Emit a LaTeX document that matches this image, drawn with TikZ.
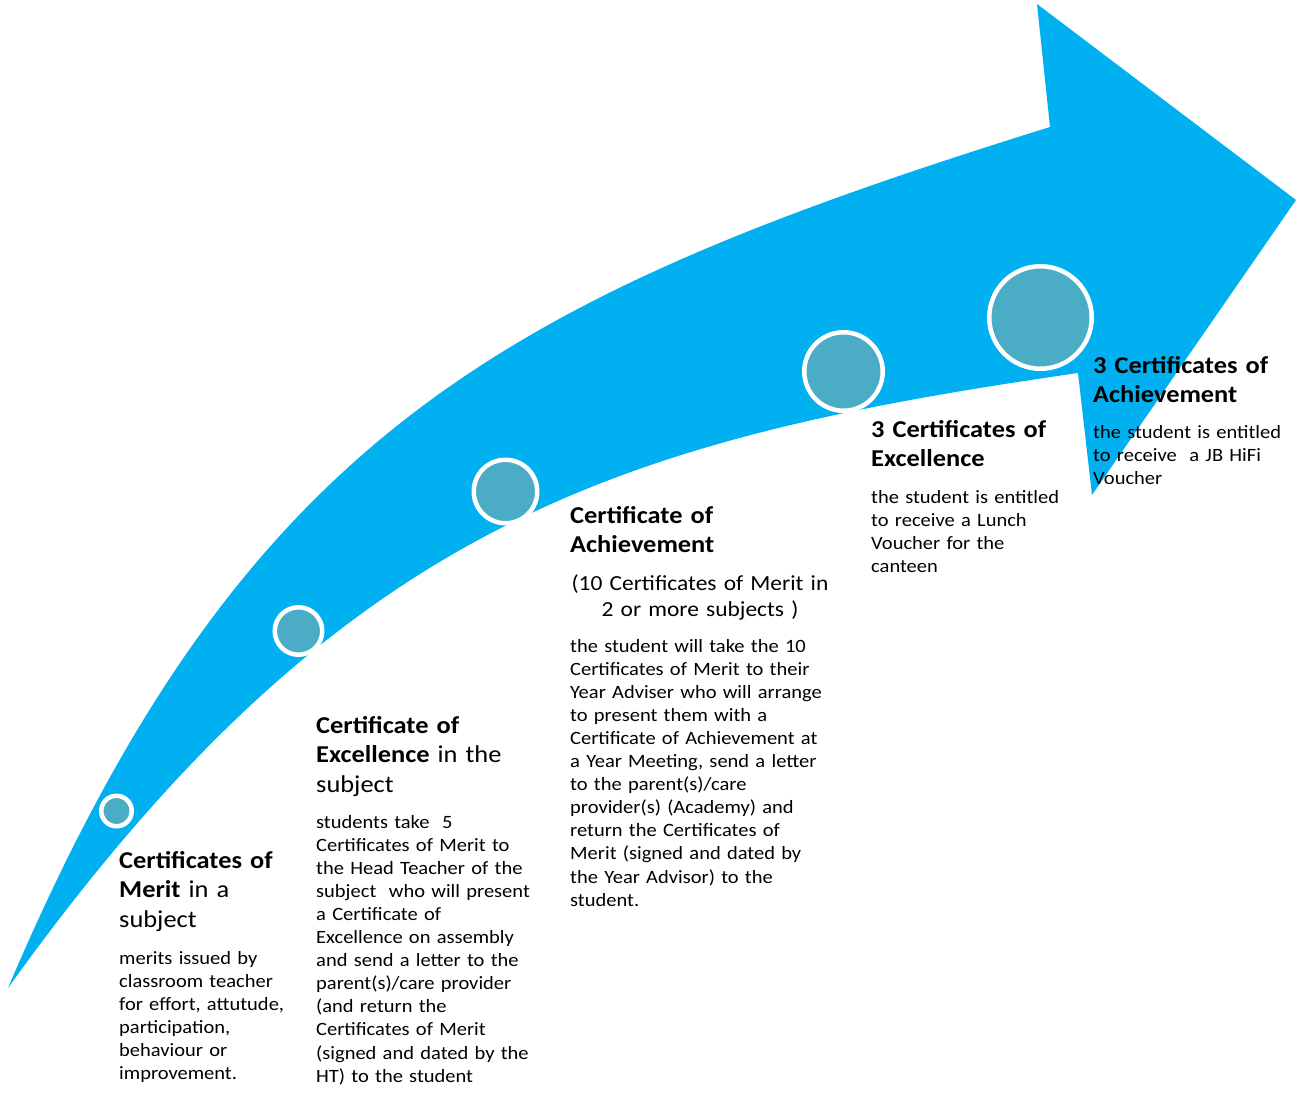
\documentclass[tikz,border=0pt]{standalone}
\usepackage{fontspec}
\setmainfont{Carlito}[FakeStretch=1.09]
\usepackage{tikz}
\usetikzlibrary{shapes,
                positioning}
\definecolor{arrowblue}{HTML}{00B0F0}
\definecolor{medalblue}{HTML}{4BACC6}
\tikzstyle{medal} = [circle, draw=white, line width=4.5pt, fill=medalblue, inner sep=0pt]
\tikzstyle{headtext} = [anchor=base west, inner sep=0pt, text width=320pt, align=left, font=\fontsize{24.2}{29.5}\selectfont]
\tikzstyle{bodytext} = [anchor=base west, inner sep=0pt, text width=320pt, align=left, font=\fontsize{18.8}{23.1}\selectfont]
\tikzstyle{notetext} = [anchor=base, inner sep=0pt, text width=320pt, align=center, font=\fontsize{21.5}{26.5}\selectfont]

\begin{document}
\begin{tikzpicture}[x=1pt, y=-1pt]
        \useasboundingbox (0,0) rectangle (1296,1093);
        % the big bent arrow
        \fill[arrowblue] (8,988) .. controls (243,436) and (501,298) .. (1050,127)
            -- (1037,4) -- (1296,200) -- (1092,495) -- (1078,373)
            .. controls (613,440) and (340,525) .. (8,988) -- cycle;
        % steps on the arrow
        \node (meritdot) [medal, minimum size=30.5] at (116.5,811) {};
        \node (excellencedot) [medal, minimum size=47.5] at (298.5,631) {};
        \node (achievementdot) [medal, minimum size=63.5] at (505.5,491.5) {};
        \node (lunchdot) [medal, minimum size=78.5] at (843.5,371.5) {};
        \node (voucherdot) [medal, minimum size=102.5] at (1040.5,317.5) {};
        % labels
        \node (merit) [headtext] at (119,868) {\textbf{Certificates of}\\\textbf{Merit} in a\\subject};
        \node (meritinfo) [bodytext] at (119,964) {merits issued by\\classroom teacher\\for effort, attutude,\\participation,\\behaviour or\\improvement.};
        \node (excellence) [headtext] at (316,733) {\textbf{Certificate of}\\\textbf{Excellence} in the\\subject};
        \node (excellenceinfo) [bodytext] at (316,828) {students take~~5\\Certificates of Merit to\\the Head Teacher of the\\subject~~who will present\\a Certificate of\\Excellence on assembly\\and send a letter to the\\parent(s)/care provider\\(and return the\\Certificates of Merit\\(signed and dated by the\\HT) to the student};
        \node (achievement) [headtext] at (570,523) {\textbf{Certificate of}\\\textbf{Achievement}};
        \node (achievementrule) [notetext] at (700,590) {(10 Certificates of Merit in\\2 or more subjects )};
        \node (achievementinfo) [bodytext] at (570,652) {the student will take the 10\\Certificates of Merit to their\\Year Adviser who will arrange\\to present them with a\\Certificate of Achievement at\\a Year Meeting, send a letter\\to the parent(s)/care\\provider(s) (Academy) and\\return the Certificates of\\Merit (signed and dated by\\the Year Advisor) to the\\student.};
        \node (lunch) [headtext] at (871,437) {\textbf{3 Certificates of}\\\textbf{Excellence}};
        \node (lunchinfo) [bodytext] at (871,503) {the student is entitled\\to receive a Lunch\\Voucher for the\\canteen};
        \node (voucher) [headtext] at (1093,373) {\textbf{3 Certificates of}\\\textbf{Achievement}};
        \node (voucherinfo) [bodytext] at (1093,438) {the student is entitled\\to receive~~a JB HiFi\\Voucher};
        %
\end{tikzpicture}
\end{document}
